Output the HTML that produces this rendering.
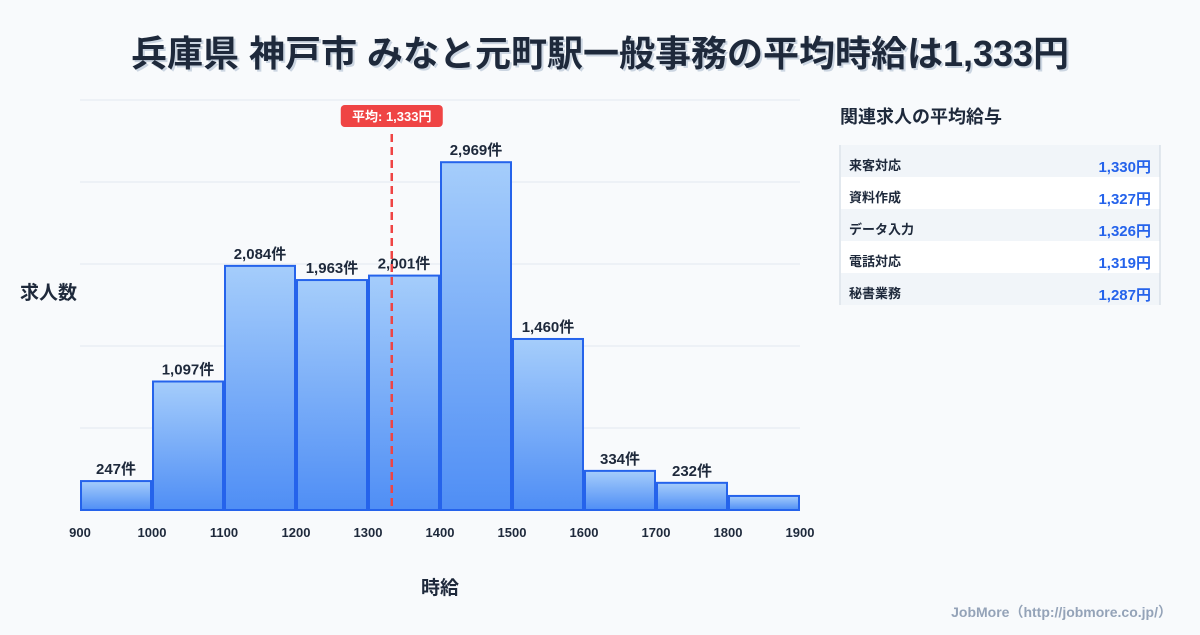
<!DOCTYPE html>
<html><head><meta charset="utf-8"><style>
body{margin:0;width:1200px;height:630px;background:#f8fafc;overflow:hidden;font-family:"Liberation Sans","Noto Sans CJK JP",sans-serif;}
svg text{font-family:"Liberation Sans","Noto Sans CJK JP",sans-serif;}
</style></head><body>
<svg width="1200" height="630">
<defs><linearGradient id="g" x1="0" y1="0" x2="0" y2="1"><stop offset="0" stop-color="#a5cdfb"/><stop offset="1" stop-color="#4f8ef5"/></linearGradient></defs>
<text x="602" y="68" text-anchor="middle" font-size="36" font-weight="bold" fill="#cbd5e1">兵庫県 神戸市 みなと元町駅一般事務の平均時給は1,333円</text>
<text x="600" y="66" text-anchor="middle" font-size="36" font-weight="bold" fill="#1e293b">兵庫県 神戸市 みなと元町駅一般事務の平均時給は1,333円</text>
<g id="grid"></g><g id="bars"></g>
<text x="20" y="299" font-size="19" font-weight="bold" fill="#1e293b">求人数</text>
<text x="440" y="594" text-anchor="middle" font-size="19" font-weight="bold" fill="#1e293b">時給</text>
<text x="840" y="123" font-size="18" font-weight="bold" fill="#1e293b">関連求人の平均給与</text>
<g id="table"></g>
<text x="1172" y="617" text-anchor="end" font-size="14" font-weight="bold" fill="#94a3b8">JobMore（http://jobmore.co.jp/）</text>
</svg>
<script>
const binStarts=[900,1000,1100,1200,1300,1400,1500,1600,1700,1800];
const counts=[247,1097,2084,1963,2001,2969,1460,334,232,120];
const showLabel=[true,true,true,true,true,true,true,true,true,false];
const xTicks=[900,1000,1100,1200,1300,1400,1500,1600,1700,1800,1900];
const yGrid=[0,700,1400,2100,2800,3500];
const avg=1333;
const jobs=["来客対応","資料作成","データ入力","電話対応","秘書業務"];
const wages=[1330,1327,1326,1319,1287];
const NS="http://www.w3.org/2000/svg";
const X=v=>80+(v-900)*0.72, Y=v=>510-v*410/3500;
function mk(t,a,p,txt){const e=document.createElementNS(NS,t);for(const k in a)e.setAttribute(k,a[k]);if(txt!=null)e.textContent=txt;p.appendChild(e);return e;}
const grid=document.getElementById('grid'),bars=document.getElementById('bars'),tb=document.getElementById('table');
yGrid.forEach(v=>{const l=mk('line',{x1:80,x2:800,y1:Y(v),y2:Y(v),stroke:'#e2e8f0'},grid);

});
binStarts.forEach((b,i)=>{const r=mk('rect',{x:X(b)+1,y:Y(counts[i]),width:70,height:510-Y(counts[i]),fill:'url(#g)',stroke:'#2563eb','stroke-width':2},bars);


if(showLabel[i]){const t=mk('text',{x:X(b)+36,y:Y(counts[i])-7,'text-anchor':'middle','font-size':15,'font-weight':'bold',fill:'#1e293b'},bars,counts[i].toLocaleString('en-US')+'件');

}});
xTicks.forEach(v=>{const t=mk('text',{x:X(v),y:537,'text-anchor':'middle','font-size':13,'font-weight':'bold',fill:'#1e293b'},bars,v);

});
const ax=X(avg);
const al=mk('line',{x1:ax,x2:ax,y1:134,y2:510,stroke:'#ef4444','stroke-width':2.5,'stroke-dasharray':'8,5'},bars);


const ab=mk('rect',{x:ax-51,y:105,width:102,height:22,rx:4,fill:'#ef4444'},bars);


const at=mk('text',{x:ax,y:121,'text-anchor':'middle','font-size':13,'font-weight':'bold',fill:'#fff'},bars,'平均: '+avg.toLocaleString('en-US')+'円');


jobs.forEach((j,i)=>{const y=145+i*32;
const r=mk('rect',{x:841,y:y,width:319,height:32,fill:i%2?'#ffffff':'#f1f5f9'},tb);


const a=mk('text',{x:849,y:y+25,'font-size':13,'font-weight':'bold',fill:'#1e293b'},tb,j);


const b=mk('text',{x:1151,y:y+27,'text-anchor':'end','font-size':15,'font-weight':'bold',fill:'#2563eb'},tb,wages[i].toLocaleString('en-US')+'円');

});
[840,1160].forEach(x=>{const l=mk('line',{x1:x,x2:x,y1:145,y2:305,stroke:'#cbd5e1'},tb);

});
</script>
</body></html>
